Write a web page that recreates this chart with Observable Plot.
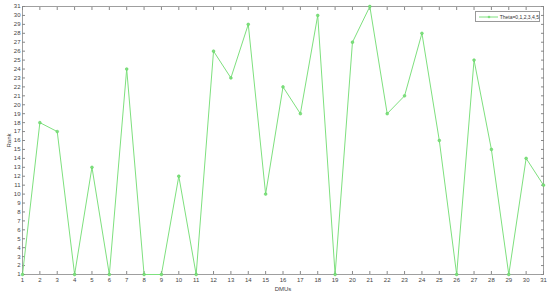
<!DOCTYPE html>
<html>
<head>
<meta charset="utf-8">
<script src="https://cdn.jsdelivr.net/npm/d3@7"></script>
<script src="https://cdn.jsdelivr.net/npm/@observablehq/plot@0.6"></script>
<style>
  html, body { margin: 0; padding: 0; background: #fff; }
  #wrap { position: relative; width: 550px; height: 295px; }
  #legend { position: absolute; left: 475px; top: 11px; width: 63px; height: 9px;
    border: 1px solid #999; background: #fff; font: 5px "Liberation Sans", Arial, sans-serif;
    color: #333; display: flex; align-items: center; box-sizing: content-box; }
  #legend svg { margin-left: 2px; }
</style>
</head>
<body>
<div id="wrap"></div>
<script>
const dmus = d3.range(1, 32);
const ranks = [1, 18, 17, 1, 13, 1, 24, 1, 1, 12, 1, 26, 23, 29, 10, 22, 19, 30, 1, 27, 31, 19, 21, 28, 16, 1, 25, 15, 1, 14, 11];
const xTicks = d3.range(1, 32);
const yTicks = d3.range(1, 32);
const seriesName = "Theta=0,1,2,3,4,5";
const lineColor = "#7ee07e";

const data = dmus.map((d, i) => ({dmu: d, rank: ranks[i]}));

const chart = Plot.plot({
  width: 550,
  height: 295,
  marginLeft: 22,
  marginRight: 7,
  marginTop: 6,
  marginBottom: 21,
  style: {fontFamily: "'Liberation Sans', Arial, sans-serif", fontSize: "6px", color: "#444", background: "#fff"},
  x: {domain: [1, 31], label: "DMUs", labelArrow: "none"},
  y: {domain: [1, 31], label: "Rank", labelArrow: "none"},
  marks: [
    Plot.frame({stroke: "#888", strokeWidth: 0.8}),
    Plot.axisX(xTicks, {anchor: "bottom", tickSize: -3, tickPadding: 6, stroke: "#888", label: "DMUs", labelArrow: "none", labelAnchor: "center", labelOffset: 16, fill: "#444"}),
    Plot.axisX(xTicks, {anchor: "top", tickSize: -3, tickFormat: () => "", stroke: "#888", label: null}),
    Plot.axisY(yTicks, {anchor: "left", tickSize: -3, tickPadding: 5, stroke: "#888", label: "Rank", labelArrow: "none", labelAnchor: "center", labelOffset: 16, fill: "#444"}),
    Plot.axisY(yTicks, {anchor: "right", tickSize: -3, tickFormat: () => "", stroke: "#888", label: null}),
    Plot.line(data, {x: "dmu", y: "rank", stroke: lineColor, strokeWidth: 1}),
    Plot.dot(data, {x: "dmu", y: "rank", r: 1.4, fill: lineColor, stroke: "#5ccf5c", strokeWidth: 0.5})
  ]
});
const wrap = document.getElementById("wrap");
wrap.appendChild(chart);

const legend = document.createElement("div");
legend.id = "legend";
legend.innerHTML = `<svg width="22" height="6"><line x1="1" y1="3" x2="21" y2="3" stroke="${lineColor}" stroke-width="1"/><circle cx="11" cy="3" r="1.3" fill="${lineColor}"/></svg><span style="margin-left:2px">${seriesName}</span>`;
wrap.appendChild(legend);
</script>
</body>
</html>
